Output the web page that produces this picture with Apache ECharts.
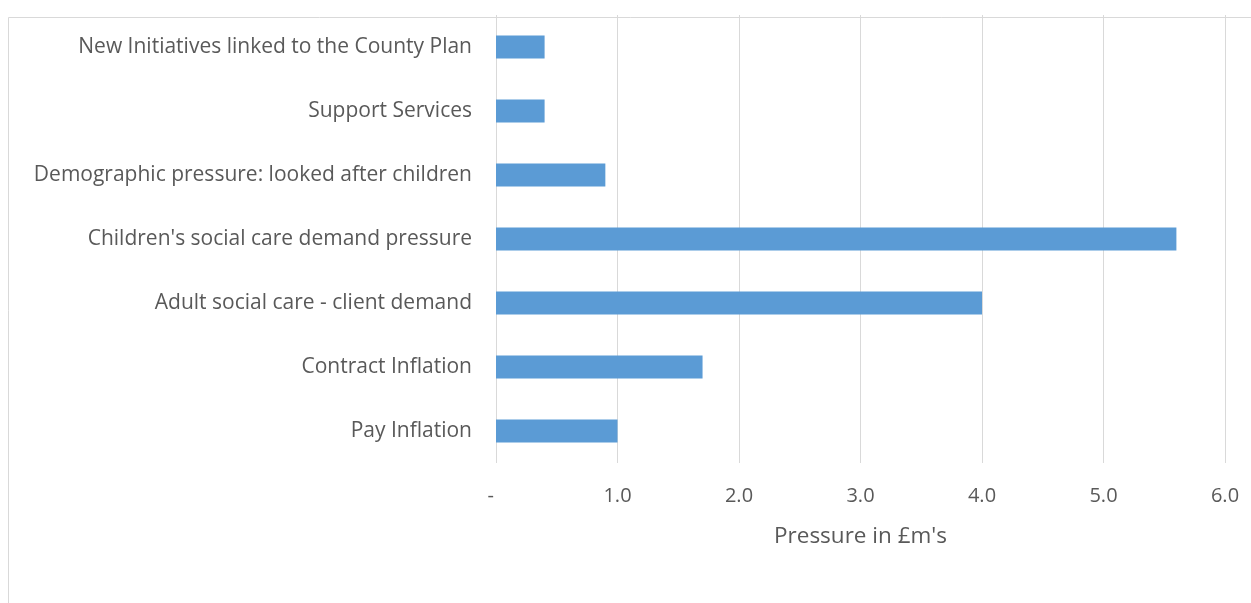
<!DOCTYPE html>
<html>
<head>
<meta charset="utf-8">
<script src="https://cdn.jsdelivr.net/npm/echarts@6/dist/echarts.min.js"></script>
<style>
html,body{margin:0;padding:0;background:#fff;}
#chart{width:1251px;height:603px;}
</style>
</head>
<body>
<div id="chart"></div>
<script>
const categories = [
  "New Initiatives linked to the County Plan",
  "Support Services",
  "Demographic pressure: looked after children",
  "Children's social care demand pressure",
  "Adult social care - client demand",
  "Contract Inflation",
  "Pay Inflation"
];
const values = [0.4, 0.4, 0.9, 5.6, 4.0, 1.7, 1.0];
const axisTitle = "Pressure in £m's";

const FONT = "Open Sans";
const TXT = "#595959";
const chart = echarts.init(document.getElementById('chart'), null, {renderer: 'canvas'});
chart.setOption({
  animation: false,
  backgroundColor: '#ffffff',
  graphic: [{
    type: 'rect', left: 6, top: 15, z: -1,
    shape: {width: 1400, height: 800},
    style: {fill: 'none', stroke: '#d9d9d9', lineWidth: 1}
  }],
  grid: {left: 496, right: 26, top: 15, bottom: 140, containLabel: false},
  xAxis: {
    type: 'value', min: 0, max: 6, interval: 1,
    axisLine: {show: false}, axisTick: {show: false},
    splitLine: {show: true, lineStyle: {color: '#d9d9d9', width: 1}},
    axisLabel: {
      color: TXT, fontFamily: FONT, fontSize: 20, margin: 23,
      formatter: function (v) { return v === 0 ? '-  ' : v.toFixed(1); }
    },
    name: axisTitle, nameLocation: 'middle', nameGap: 62,
    nameTextStyle: {color: TXT, fontFamily: FONT, fontSize: 22.5}
  },
  yAxis: {
    type: 'category', data: categories, inverse: true,
    axisLine: {show: false}, axisTick: {show: false},
    splitLine: {show: false},
    axisLabel: {color: TXT, fontFamily: FONT, fontSize: 21, margin: 24, padding: [3, 0, 0, 0]}
  },
  series: [{
    type: 'bar', data: values, barWidth: 23,
    itemStyle: {color: '#5b9bd5'}
  }]
});
</script>
</body>
</html>
